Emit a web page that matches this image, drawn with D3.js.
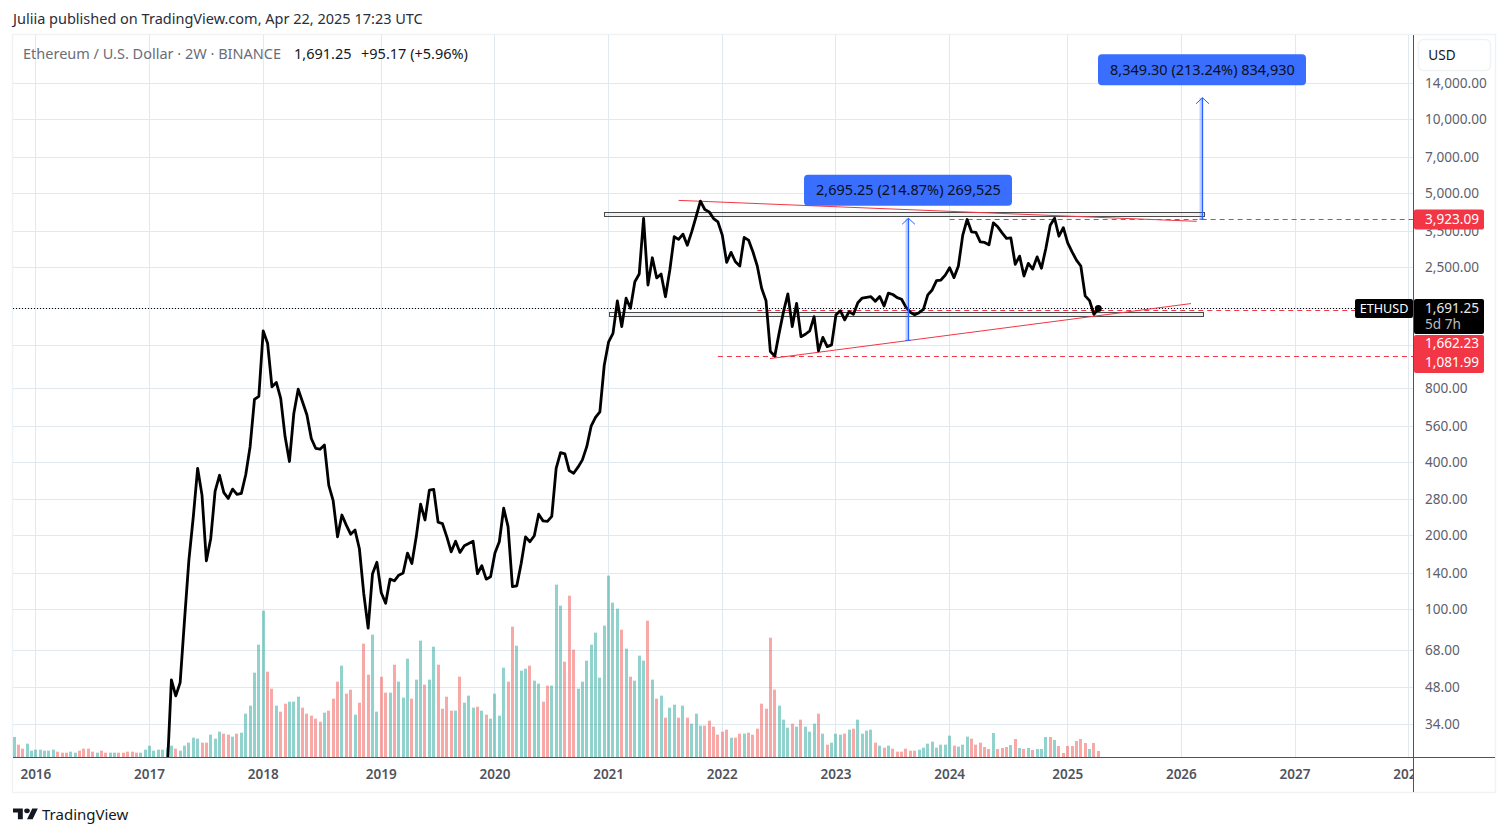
<!DOCTYPE html>
<html>
<head>
<meta charset="utf-8">
<script src="https://cdn.jsdelivr.net/npm/d3@7"></script>
<style>
  html, body { margin: 0; padding: 0; background: #fff; }
  text { font-family: "Noto Sans", sans-serif; }
</style>
</head>
<body>
<div id="chart"></div>
<script>
// 2W bars, first bar index is 0 (late 2015), last one is the open bar of Apr 2025
var years = [2016, 2017, 2018, 2019, 2020, 2021, 2022, 2023, 2024, 2025, 2026, 2027, 2028];
var yearBars = [5, 31, 57, 84, 110, 136, 162, 188, 214, 241, 267, 293, 319];

var priceTicks = [14000, 10000, 7000, 5000, 3500, 2500, 800, 560, 400, 280, 200, 140, 100, 68, 48, 34];
var hiddenPriceTicks = [1700, 1200]; // labels are covered by the tags, only the grid shows

// relative volume, the volume scale is hidden on the original
var volumes = [
  60,37,25,40,19,22,22,19,19,22, 16,13,13,16,13,19,25,25,16,13,
  19,13,13,13,13,13,16,16,13,13, 22,34,19,22,22,28,34,25,19,34,
  43,58,55,43,43,67,55,76,70,67, 61,70,73,130,154,253,337,439,256,205,
  154,136,160,166,166,181,148,130,124,115, 106,133,139,175,226,274,190,202,127,163,
  340,247,367,136,241,193,193,277,226,178, 295,175,232,349,217,232,331,277,145,181,
  139,139,241,163,184,148,151,139,127,115, 190,124,268,226,391,334,259,265,274,229,
  220,166,214,214,517,454,286,484,322,205, 226,289,337,373,238,394,544,463,445,382,
  325,241,229,304,289,409,232,175,184,118, 148,157,118,154,118,100,130,94,94,109,
  91,67,76,82,58,58,70,70,73,67, 85,160,145,358,202,154,112,88,100,91,
  112,91,76,100,130,70,37,43,70,67, 70,82,85,112,70,79,82,43,34,28,
  34,25,16,16,25,19,19,22,28,40, 46,28,37,37,64,34,31,37,61,55,
  37,43,30,24,72,24,27,30,36,54, 27,24,27,21,24,24,60,60,51,33,
  12,33,33,48,54,42,24,42,18
];
var volumeUp = [
  1,0,0,1,1,1,1,1,1,1, 0,0,0,1,1,0,0,0,0,1,
  0,0,1,1,0,0,0,0,0,1, 1,1,1,1,1,1,1,0,1,1,
  1,1,1,0,0,1,1,1,0,0, 1,0,1,1,1,1,1,1,0,0,
  1,0,0,1,1,1,0,0,0,0, 0,1,0,0,0,1,0,0,1,0,
  0,0,1,1,0,0,1,0,1,1, 1,0,1,1,0,1,1,0,0,0,
  0,1,0,1,1,1,0,1,0,1, 1,1,1,0,0,1,1,1,0,1,
  1,0,0,1,1,1,0,0,0,1, 1,1,1,1,1,1,1,1,1,0,
  1,0,1,1,1,0,1,0,1,0, 1,1,0,1,0,1,1,1,0,0,
  0,0,0,0,1,0,0,1,0,0, 0,0,0,0,0,1,1,1,0,1,
  0,1,1,1,0,1,0,1,1,1, 0,1,0,1,1,1,1,0,1,0,
  1,0,0,0,0,0,0,1,1,1, 1,1,1,1,1,0,1,1,1,0,
  0,0,0,0,1,0,0,0,1,0, 1,0,1,0,1,1,1,0,1,0,
  0,0,0,0,0,0,1
];

// closes start at bar 33, the ones before that sit below the pane
var firstCloseBar = 33;
var closes = [
  12,14,21,51.6,44.4,50.3,90.5,159,238,377,293,158,195,304,353,300,284,310,295,298,
  355,462,720,742,1372,1222,811,845,727,508,402,631,793,703,622,499,455,451,469,321,
  278,198,243,221,203,211,177,116,84,140,156,117,106,133,131,138,141,170,154,198,
  269,232,307,309,227,224,198,172,190,171,182,186,190,140,151,133,136,170,189,259,
  218,124,125,154,198,189,200,245,230,229,240,377,437,432,369,360,381,408,462,560,
  608,641,993,1238,1340,1817,1428,1865,1697,2177,2341,3945,2111,2727,2256,2341,1891,2431,3324,3241,
  3405,3069,3480,4009,4640,4293,4198,3943,3822,3374,2611,2868,2626,2524,3299,3219,2885,2524,2047,1822,
  1129,1082,1343,1644,1941,1428,1777,1299,1329,1372,1569,1137,1290,1183,1203,1595,1659,1521,1644,1603,
  1788,1868,1881,1891,1812,1896,1734,1957,1931,1875,1846,1714,1635,1595,1628,1680,1923,2015,2199,2212,
  2317,2484,2263,2524,3374,3908,3480,3460,3168,3150,3079,3786,3647,3448,3270,3288,2564,2770,2297,2588,
  2453,2750,2470,2977,3705,3953,3339,3619,3139,2884,2669,2524,1906,1822,1603,1691.25
];
var lastPrice = 1691.25;

// drawings: [bar, price] pairs
var zoneBars = [[135, 272.2], [136.3, 272.2]];
var zonePrices = [[4160, 4005], [1636, 1575]];
var trendLines = [
  [[152, 4676], [270.5, 3841]],
  [[172.9, 1057], [269.2, 1773]]
];
var levelStartBars = [214, 170, 161];
var levelPrices = [3923.09, 1662.23, 1081.99];
var rangeBars = [204.7, 271.85];
var rangeFrom = [1254.4, 3915.4];
var rangeTo = [3949.65, 12264.7];
var rangeLabels = ['2,695.25 (214.87%) 269,525', '8,349.30 (213.24%) 834,930'];

var width = 1508, height = 836;
var pane = { left: 13, right: 1495, top: 35, bottom: 757, outer: 792, axis: 1413 };
var gridColor = '#e1e9f0';
var red = '#f23645', blue = '#2962ff', textGray = '#5d606b';

var x = d3.scaleLinear().domain([0, volumes.length - 1]).range([14, 1098.3]);
var y = d3.scaleLog().domain([34, 14000]).range([724.3, 83.7]);
var yVol = d3.scaleLinear().domain([0, 600]).range([pane.bottom, pane.bottom - 200]);

// keeps 1px lines sharp
function snap(v) { return Math.floor(v) + 0.5; }

var svg = d3.select('#chart').append('svg')
    .attr('width', width)
    .attr('height', height)
    .style('display', 'block');

var defs = svg.append('defs');
defs.append('clipPath').attr('id', 'plot-clip').append('rect')
    .attr('x', pane.left).attr('y', pane.top)
    .attr('width', pane.axis - pane.left).attr('height', pane.bottom - pane.top);
defs.append('clipPath').attr('id', 'time-clip').append('rect')
    .attr('x', pane.left).attr('y', pane.bottom)
    .attr('width', pane.axis - pane.left).attr('height', pane.outer - pane.bottom);

// header
svg.append('text').attr('x', 13).attr('y', 24)
    .style('font-size', '14.5px').attr('fill', '#2a2e39')
    .text('Juliia published on TradingView.com, Apr 22, 2025 17:23 UTC');

// frame
svg.append('rect')
    .attr('x', pane.left - 0.5).attr('y', pane.top - 0.5)
    .attr('width', pane.right - pane.left + 1).attr('height', pane.outer - pane.top + 1)
    .attr('fill', 'none').attr('stroke', '#f0f3f5').attr('stroke-width', 1.5);

// grid
var grid = svg.append('g').attr('stroke', gridColor).attr('stroke-width', 1);
grid.selectAll('.h').data(priceTicks.concat(hiddenPriceTicks)).join('line')
    .attr('x1', pane.left).attr('x2', pane.axis)
    .attr('y1', d => snap(y(d))).attr('y2', d => snap(y(d)));
grid.selectAll('.v').data(yearBars).join('line')
    .attr('x1', d => snap(x(d))).attr('x2', d => snap(x(d)))
    .attr('y1', pane.top).attr('y2', pane.bottom);

var plot = svg.append('g').attr('clip-path', 'url(#plot-clip)');

// volume
plot.append('g').selectAll('rect')
    .data(volumes)
    .join('rect')
    .attr('x', (d, i) => Math.round(x(i) - 1.5))
    .attr('width', 3)
    .attr('y', d => yVol(d))
    .attr('height', d => pane.bottom - yVol(d))
    .attr('fill', (d, i) => volumeUp[i] ? '#26a69a' : '#ef5350')
    .attr('fill-opacity', 0.5);

// last price dotted line
plot.append('line')
    .attr('x1', pane.left).attr('x2', pane.axis)
    .attr('y1', snap(y(lastPrice))).attr('y2', snap(y(lastPrice)))
    .attr('stroke', '#000').attr('stroke-dasharray', '1 2');

// zones
zonePrices.forEach(function (p, k) {
    plot.append('rect')
        .attr('x', snap(x(zoneBars[k][0])))
        .attr('width', Math.round(x(zoneBars[k][1]) - x(zoneBars[k][0])))
        .attr('y', snap(y(p[0])))
        .attr('height', Math.round(y(p[1]) - y(p[0])))
        .attr('fill', '#9e9e9e').attr('fill-opacity', 0.15)
        .attr('stroke', '#4a4a4a').attr('stroke-width', 1);
});

// levels
levelPrices.forEach(function (p, k) {
    plot.append('line')
        .attr('x1', x(levelStartBars[k])).attr('x2', pane.axis)
        .attr('y1', snap(y(p))).attr('y2', snap(y(p)))
        .attr('stroke', red).attr('stroke-dasharray', '5 4');
});

// trend lines
trendLines.forEach(function (t) {
    plot.append('line')
        .attr('x1', x(t[0][0])).attr('y1', y(t[0][1]))
        .attr('x2', x(t[1][0])).attr('y2', y(t[1][1]))
        .attr('stroke', red).attr('stroke-width', 1);
});

// price line
var line = d3.line()
    .x((d, i) => x(i + firstCloseBar))
    .y(d => y(d))
    .curve(d3.curveLinear);

plot.append('path')
    .datum(closes)
    .attr('d', line)
    .attr('fill', 'none')
    .attr('stroke', '#000')
    .attr('stroke-width', 2.8)
    .attr('stroke-linejoin', 'round');

plot.append('circle')
    .attr('cx', x(volumes.length - 1)).attr('cy', y(lastPrice)).attr('r', 3.5)
    .attr('fill', '#000');

// price ranges
rangeBars.forEach(function (b, k) {
    var cx = snap(x(b)), y0 = y(rangeFrom[k]), y1 = y(rangeTo[k]);
    plot.append('rect')
        .attr('x', cx - 3).attr('width', 3)
        .attr('y', y1).attr('height', y0 - y1)
        .attr('fill', blue).attr('fill-opacity', 0.3);
    plot.append('line').attr('x1', cx - 3).attr('x2', cx + 2)
        .attr('y1', y0).attr('y2', y0).attr('stroke', blue);
    plot.append('line').attr('x1', cx).attr('x2', cx)
        .attr('y1', y0).attr('y2', y1).attr('stroke', blue).attr('stroke-width', 1.3);
    plot.append('path')
        .attr('d', `M${cx - 6.5},${y1 + 6}L${cx},${y1}L${cx + 6.5},${y1 + 6}`)
        .attr('fill', 'none').attr('stroke', blue);
    plot.append('rect')
        .attr('x', cx - 104.5).attr('y', y1 - 43.5)
        .attr('width', 208).attr('height', 31).attr('rx', 4)
        .attr('fill', '#2962ff').attr('fill-opacity', 0.92);
    plot.append('text')
        .attr('x', cx).attr('y', y1 - 29)
        .attr('text-anchor', 'middle').attr('dominant-baseline', 'central')
        .style('font-size', '14.5px').attr('fill', '#0b1020')
        .text(rangeLabels[k]);
});

// chart title
var title = svg.append('text').attr('x', 23).attr('y', 59).style('font-size', '14.5px');
title.append('tspan').attr('fill', '#6a6d78').text('Ethereum / U.S. Dollar · 2W · BINANCE');
title.append('tspan').attr('x', 294).attr('fill', '#131722').text('1,691.25');
title.append('tspan').attr('x', 361).attr('fill', '#131722').text('+95.17 (+5.96%)');

// time axis
svg.append('g')
    .attr('clip-path', 'url(#time-clip)')
    .selectAll('text')
    .data(years)
    .join('text')
    .attr('x', (d, i) => x(yearBars[i]))
    .attr('y', 779)
    .attr('text-anchor', 'middle')
    .style('font-size', '13.5px').style('font-weight', 600)
    .attr('fill', '#50535e')
    .text(d => d);

// axis lines
svg.append('line').attr('x1', pane.left).attr('x2', pane.right)
    .attr('y1', pane.bottom + 0.5).attr('y2', pane.bottom + 0.5).attr('stroke', '#50535e');
svg.append('line').attr('x1', pane.axis + 0.5).attr('x2', pane.axis + 0.5)
    .attr('y1', pane.top).attr('y2', pane.outer).attr('stroke', '#50535e');

// price axis labels
svg.append('g').selectAll('text')
    .data(priceTicks)
    .join('text')
    .attr('x', 1425)
    .attr('y', d => y(d) - 1)
    .attr('dominant-baseline', 'central')
    .style('font-size', '13.6px')
    .attr('fill', textGray)
    .text(d => d3.format(',.2f')(d));

// tags on the price axis
function tag(x0, x1, y0, y1, fill, rx) {
    svg.append('rect').attr('x', x0).attr('y', y0)
        .attr('width', x1 - x0).attr('height', y1 - y0).attr('rx', rx).attr('fill', fill);
}
function tagText(str, tx, ty, color, anchor, size) {
    svg.append('text').attr('x', tx).attr('y', ty)
        .attr('dominant-baseline', 'central').attr('text-anchor', anchor || 'start')
        .style('font-size', (size || 13.6) + 'px').attr('fill', color).text(str);
}
var fmt = d3.format(',.2f');
tag(1414, 1484, y(levelPrices[0]) - 9.5, y(levelPrices[0]) + 10.5, red, 2);
tagText(fmt(levelPrices[0]), 1425, y(levelPrices[0]) - 1, '#fff');
tag(1355, 1413, 299, 318, '#000', 2);
tagText('ETHUSD', 1384, 308.5, '#fff', 'middle', 12.6);
tag(1414, 1484, 299, 334, '#000', 2);
tagText(fmt(lastPrice), 1425, 307, '#e8e8e8');
tagText('5d 7h', 1425, 323, '#bdbdbd');
tag(1414, 1484, 335, 373, red, 2);
tagText(fmt(levelPrices[1]), 1425, 342.5, '#fff');
tagText(fmt(levelPrices[2]), 1425, 361.5, '#fff');

// USD button
svg.append('rect').attr('x', 1418.5).attr('y', 39.5).attr('width', 72).attr('height', 31).attr('rx', 5)
    .attr('fill', '#fff').attr('stroke', '#f0f3f5').attr('stroke-width', 1.5);
svg.append('text').attr('x', 1442).attr('y', 54.5)
    .attr('text-anchor', 'middle').attr('dominant-baseline', 'central')
    .style('font-size', '13.6px').attr('fill', '#131722').text('USD');

// logo
var logo = svg.append('g').attr('transform', 'translate(13,806) scale(0.7,0.6)').attr('fill', '#131722');
logo.append('path').attr('d', 'M14 22H7V11H0V4h14v18zM28 22h-8l7.5-18h8L28 22z');
logo.append('circle').attr('cx', 20).attr('cy', 8).attr('r', 4);
svg.append('text').attr('x', 42).attr('y', 820)
    .style('font-size', '15px').attr('fill', '#131722').text('TradingView');
</script>
</body>
</html>
